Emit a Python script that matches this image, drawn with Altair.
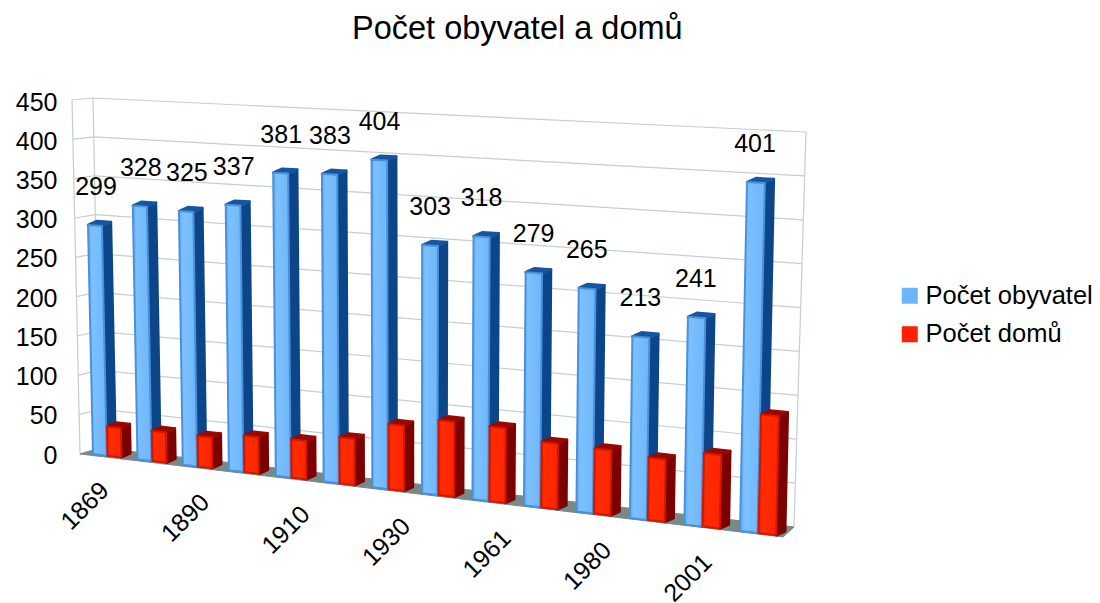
import altair as alt
import pandas as pd

# --- chart values -------------------------------------------------------
years = [1869, 1880, 1890, 1900, 1910, 1921, 1930, 1950, 1961, 1970, 1980, 1991, 2001, 2011]
obyvatel = [299, 328, 325, 337, 381, 383, 404, 303, 318, 279, 265, 213, 241, 401]
domu = [38, 39, 39, 46, 48, 57, 80, 91, 90, 78, 77, 73, 85, 136]
ticks = [0, 50, 100, 150, 200, 250, 300, 350, 400, 450]
series_names = ["Počet obyvatel", "Počet domů"]
FONT = "Liberation Sans"

# --- camera: maps (group index, value) on to the page --------------------
W, H = 1084, 543
TOP = 60                        # page y of the plot's top edge
PX_PER_UNIT = 0.7844            # axis scale on the left wall
AXIS_ZERO = 455


def yunits(py):
    return (AXIS_ZERO - py) / PX_PER_UNIT


def bar_front(u, v):
    t = u / 13
    f = t / (t + (1 - t) * 1.128)
    xb = 93 + 647 * f
    base = 454 + (xb - 93) * 0.119
    s = 0.766 + (xb - 93) / 647 * 0.104
    return xb + (xb - 409) * 5.29e-5 * v, base - v * s


def wall(a, b, v):
    """Point at value v on a vertical wall edge running from a (v=0) to b (v=450)."""
    k = v / 450
    return a[0] + (b[0] - a[0]) * k, a[1] + (b[1] - a[1]) * k


FRONT_L = ((80, 454), (72, 100))
BACK_L = ((100, 448), (93, 98))
BACK_R = ((794, 527), (806, 132))
FLOOR_R = (783, 537)


def rows(key, pts):
    return [{"key": key, "k": n, "x": p[0], "y": yunits(p[1])} for n, p in enumerate(pts)]


# walls
grid = []
for v in ticks:
    grid += rows(f"a{v}", [wall(*FRONT_L, v), wall(*BACK_L, v), wall(*BACK_R, v)])
for name, edge in (("fl", FRONT_L), ("bl", BACK_L), ("br", BACK_R)):
    grid += rows(name, [wall(*edge, 0), wall(*edge, 450)])
grid = pd.DataFrame(grid)
floor = pd.DataFrame(rows("floor", [FRONT_L[0], BACK_L[0], BACK_R[0], FLOOR_R]))

# bars
SLOT = 0.31
DX, DY = 9, -4


def faces(values, offset):
    fr, sd, tp = [], [], []
    for i, v in enumerate(values):
        u0, u1 = i + offset, i + offset + SLOT
        a, b = bar_front(u0, 0), bar_front(u1, 0)
        c, d = bar_front(u1, v), bar_front(u0, v)
        sh = lambda p: (p[0] + DX, p[1] + DY)
        fr += rows(i, [a, b, c, d])
        sd += rows(i, [b, sh(b), sh(c), c])
        tp += rows(i, [d, c, sh(c), sh(d)])
    return pd.DataFrame(fr), pd.DataFrame(sd), pd.DataFrame(tp)


xs = alt.Scale(domain=[8, 8 + W], range=[0, W], nice=False, zero=False)
ys = alt.Scale(domain=[yunits(TOP + H), yunits(TOP)], nice=False, zero=False)
X = alt.X("x:Q", scale=xs, axis=None)
Y = alt.Y("y:Q", scale=ys, axis=alt.Axis(
    title=None, values=ticks, domain=False, ticks=False, grid=False,
    labelFont=FONT, labelFontSize=25, labelColor="#000000", labelPadding=0,
    offset=-49, labelOverlap=False, labelBound=False, labelFlush=False))


def poly(df, fill, stroke, sw=1.5):
    return alt.Chart(df).mark_line(
        fill=fill, stroke=stroke, strokeWidth=sw, interpolate="linear-closed",
        strokeJoin="round", clip=False,
    ).encode(x=X, y=Y, detail="key:N", order="k:Q")


def hgrad(stops):
    return alt.Gradient(
        gradient="linear", x1=0, x2=1, y1=0, y2=0,
        stops=[alt.GradientStop(offset=o, color=c) for o, c in stops],
    )


grid_layer = alt.Chart(grid).mark_line(color="#c4cfcf", strokeWidth=1.2).encode(
    x=X, y=Y, detail="key:N", order="k:Q")
floor_layer = poly(floor, "#788a87", "#788a87", 1)

bf, bs, bt = faces(obyvatel, 0)
rf, rs, rt = faces(domu, 0.33)

# legend comes from this layer; its tiny marks sit under the bar fronts
legend_df = pd.DataFrame({
    "x": [bar_front(0.15, 20)[0], bar_front(0.48, 20)[0]],
    "y": [yunits(bar_front(0.15, 20)[1]), yunits(bar_front(0.48, 20)[1])],
    "s": series_names,
})
legend_layer = alt.Chart(legend_df).mark_square(size=1, opacity=1).encode(
    x=X, y=Y,
    color=alt.Color("s:N", sort=series_names, scale=alt.Scale(domain=series_names, range=["#6cb4fb", "#ff2000"]),
                    legend=alt.Legend(title=None, orient="none", legendX=889, legendY=223,
                                      symbolType="square", symbolSize=256, symbolStrokeWidth=0,
                                      labelFont=FONT, labelFontSize=25.5, labelColor="#000000",
                                      labelOffset=3, rowPadding=11.5, padding=0, labelLimit=300)),
)

labels = pd.DataFrame({
    "x": [bar_front(i, v)[0] + 8 for i, v in enumerate(obyvatel)],
    "y": [yunits(bar_front(i, v)[1] - 38) for i, v in enumerate(obyvatel)],
    "t": [str(v) for v in obyvatel],
})
label_layer = alt.Chart(labels).mark_text(font=FONT, fontSize=25, color="#000000", baseline="middle").encode(
    x=X, y=Y, text="t:N")

cat = pd.DataFrame({
    "x": [85 + 50.25 * i for i in range(0, 14, 2)],
    "y": [yunits(506 + 6 * i) for i in range(0, 14, 2)],
    "t": [str(y) for y in years[::2]],
})
cat_layer = alt.Chart(cat).mark_text(font=FONT, fontSize=25, color="#000000", angle=315,
                                     align="center", baseline="middle").encode(x=X, y=Y, text="t:N")

blue_front = hgrad([(0, "#5fa8ee"), (0.2, "#7cc1ff"), (1, "#6fb6f8")])
red_front = hgrad([(0, "#f02000"), (0.2, "#ff2c00"), (1, "#ff2400")])

chart = alt.layer(
    grid_layer, floor_layer, legend_layer,
    poly(bs, "#0d4688", "#0d4688", 2.5),
    poly(bt, "#17569f", "#17569f", 2.5),
    poly(bf, blue_front, "#4a90dc", 2),
    poly(rs, "#7c0000", "#7c0000", 2.5),
    poly(rt, "#980800", "#980800", 2.5),
    poly(rf, red_front, "#d01800", 2),
    label_layer, cat_layer,
).properties(
    width=W, height=H,
    autosize=alt.AutoSizeParams(type="none", contains="content"),
    padding={"left": 0, "top": TOP - 8, "right": 0, "bottom": 0},
    background="white",
    title=alt.TitleParams("Počet obyvatel a domů", font=FONT, fontSize=32.5, fontWeight="normal",
                          color="#000000", anchor="start", dx=344, dy=39, offset=21, baseline="bottom"),
).configure_view(strokeWidth=0)

chart.save("out.html", embed_options={"renderer": "svg", "actions": False})
